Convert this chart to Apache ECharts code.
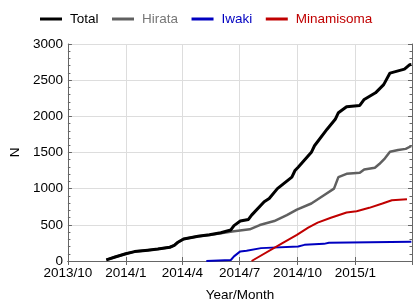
<!DOCTYPE html>
<html><head><meta charset="utf-8">
<script src="https://cdn.jsdelivr.net/npm/echarts@6/dist/echarts.min.js"></script>
<style>html,body{margin:0;padding:0;background:#fff}#c{width:415px;height:307px}</style>
</head><body><div id="c"></div>
<script>
var xTicks = ['2013/10','2014/1','2014/4','2014/7','2014/10','2015/1'];
var yTicks = [0,500,1000,1500,2000,2500,3000];

var totalDates = ['2013-12-01','2013-12-15','2014-01-01','2014-01-15','2014-02-05','2014-02-21','2014-03-12','2014-03-19','2014-03-25','2014-04-03','2014-04-26','2014-05-14','2014-06-01','2014-06-17','2014-06-22','2014-07-02','2014-07-15','2014-07-20','2014-08-09','2014-08-17','2014-08-30','2014-09-22','2014-09-27','2014-10-02','2014-10-23','2014-10-28','2014-11-17','2014-11-30','2014-12-05','2014-12-18','2015-01-08','2015-01-15','2015-02-02','2015-02-15','2015-02-25','2015-02-28','2015-03-20','2015-03-28','2015-03-31'];
var totalValues = [15,55,100,130,150,165,190,215,260,305,342,362,390,429,489,552,575,634,818,863,1000,1160,1251,1297,1503,1593,1822,1959,2050,2132,2150,2233,2325,2438,2598,2621,2653,2712,2715];

var hirataDates = ['2013-12-01','2013-12-15','2014-01-01','2014-01-15','2014-02-05','2014-02-21','2014-03-12','2014-03-19','2014-03-25','2014-04-03','2014-04-26','2014-05-14','2014-06-19','2014-07-17','2014-08-02','2014-08-25','2014-09-14','2014-09-30','2014-10-23','2014-11-12','2014-11-28','2014-12-05','2014-12-18','2015-01-08','2015-01-15','2015-02-01','2015-02-08','2015-02-17','2015-02-25','2015-03-10','2015-03-22','2015-03-31'];
var hirataValues = [15,55,100,130,150,165,190,215,260,305,342,360,407,438,497,552,634,710,795,909,1000,1160,1205,1219,1265,1290,1340,1420,1510,1535,1550,1590];

var iwakiDates = ['2014-05-09','2014-06-17','2014-06-22','2014-07-02','2014-07-12','2014-08-04','2014-10-02','2014-10-12','2014-11-12','2014-11-20','2015-03-31'];
var iwakiValues = [0,14,64,133,141,178,201,223,237,251,266];

var minamiDates = ['2014-07-20','2014-09-07','2014-09-30','2014-10-18','2014-11-02','2014-11-23','2014-12-18','2015-01-03','2015-01-23','2015-02-13','2015-02-28','2015-03-24'];
var minamiValues = [0,247,360,461,530,598,671,689,735,795,840,853];

function zip(d, v){ return d.map(function(x,i){ return [x, v[i]]; }); }

var FONT = 'Liberation Sans, Arial, sans-serif';
var AXC = '#666';
var chart = echarts.init(document.getElementById('c'), null, {renderer:'canvas'});
var dayMs = 86400000;
function fmt(v){ var d = new Date(v); var s = d.getFullYear()+'/'+(d.getMonth()+1); return xTicks.indexOf(s) >= 0 ? s : ''; }

chart.setOption({
  animation:false,
  textStyle:{fontFamily:FONT},
  legend:{
    top:7, left:35, itemWidth:22, itemHeight:3, itemGap:13.5, icon:'rect',
    textStyle:{fontSize:13.5, fontFamily:FONT, padding:[0,0,0,3]},
    data:[
      {name:'Total', textStyle:{color:'#000'}},
      {name:'Hirata', textStyle:{color:'#777'}},
      {name:'Iwaki', textStyle:{color:'#0000c0'}},
      {name:'Minamisoma', textStyle:{color:'#c00000'}}
    ]
  },
  grid:{left:58.5, right:1.5, top:44, bottom:44, containLabel:false},
  xAxis:[{
    type:'time', min:'2013-10-01', max:'2015-04-01',
    minInterval:100*dayMs, maxInterval:100*dayMs,
    name:'Year/Month', nameLocation:'middle', nameGap:27,
    nameTextStyle:{fontSize:13.5, color:'#000', fontFamily:FONT},
    axisLine:{lineStyle:{color:AXC, width:1}},
    axisTick:{inside:true, length:4, lineStyle:{color:AXC}},
    axisLabel:{formatter:fmt, fontSize:13.5, color:'#000', margin:5, showMinLabel:true, showMaxLabel:false, hideOverlap:false, fontFamily:FONT},
    splitLine:{show:true, lineStyle:{color:'#ddd', width:1}}
  },{
    type:'time', position:'top', min:'2013-10-01', max:'2015-04-01',
    minInterval:100*dayMs, maxInterval:100*dayMs,
    axisLine:{lineStyle:{color:AXC, width:1}},
    axisTick:{inside:true, length:4, lineStyle:{color:AXC}},
    axisLabel:{show:false}, splitLine:{show:false}
  }],
  yAxis:[{
    type:'value', min:yTicks[0], max:yTicks[yTicks.length-1], interval:500,
    name:'N', nameLocation:'middle', nameGap:40, nameRotate:90,
    nameTextStyle:{fontSize:13.5, color:'#000', fontFamily:FONT},
    axisLine:{show:true, lineStyle:{color:AXC, width:1}},
    axisTick:{show:true, inside:true, length:4, lineStyle:{color:AXC}},
    minorTick:{show:true, splitNumber:5, length:2.5, lineStyle:{color:AXC}},
    axisLabel:{fontSize:13.5, color:'#000', margin:5, fontFamily:FONT, formatter:function(v){ return String(v); }},
    splitLine:{show:true, lineStyle:{color:'#ddd', width:1}}
  },{
    type:'value', position:'right', min:yTicks[0], max:yTicks[yTicks.length-1], interval:500,
    axisLine:{show:true, lineStyle:{color:AXC, width:1}},
    axisTick:{show:true, inside:true, length:4, lineStyle:{color:AXC}},
    minorTick:{show:true, splitNumber:5, length:2.5, lineStyle:{color:AXC}},
    axisLabel:{show:false}, splitLine:{show:false}
  }],
  series:[
    {name:'Total', type:'line', showSymbol:false, symbol:'none', data:zip(totalDates,totalValues), lineStyle:{color:'#000', width:3}, itemStyle:{color:'#000'}, z:5},
    {name:'Hirata', type:'line', showSymbol:false, symbol:'none', data:zip(hirataDates,hirataValues), lineStyle:{color:'#606060', width:2.5}, itemStyle:{color:'#606060'}, z:4},
    {name:'Iwaki', type:'line', showSymbol:false, symbol:'none', data:zip(iwakiDates,iwakiValues), lineStyle:{color:'#0000c0', width:2}, itemStyle:{color:'#0000c0'}, z:3},
    {name:'Minamisoma', type:'line', showSymbol:false, symbol:'none', data:zip(minamiDates,minamiValues), lineStyle:{color:'#c00000', width:2}, itemStyle:{color:'#c00000'}, z:3}
  ]
});
</script></body></html>
